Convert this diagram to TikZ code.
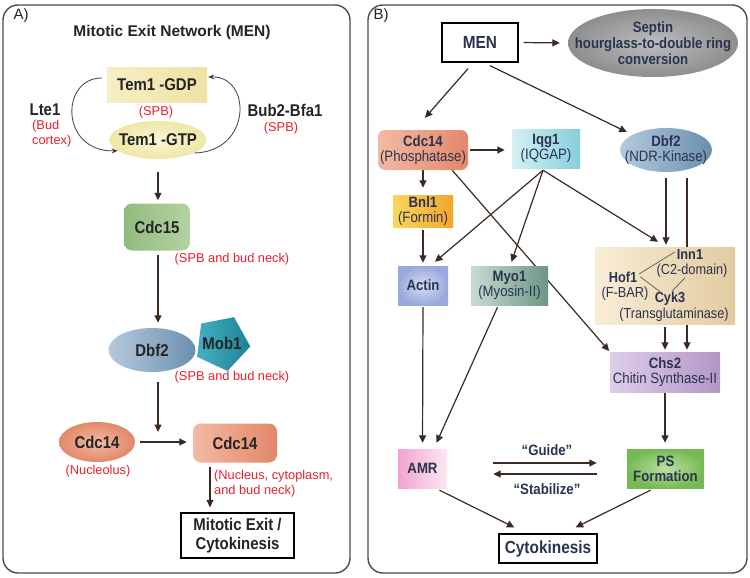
\documentclass[tikz,border=0pt]{standalone}
\usepackage{fontspec}
\setmainfont{Liberation Sans}[FakeStretch=0.88]
\newfontfamily\wfont{Liberation Sans}
\usetikzlibrary{arrows.meta,shapes.geometric,calc}
\pgfdeclarelayer{back}\pgfdeclarelayer{bg}\pgfsetlayers{back,bg,main}
\definecolor{arrc}{HTML}{3B2A22}
\definecolor{redl}{HTML}{E8212E}
\definecolor{txt}{HTML}{242424}
\definecolor{txtb}{HTML}{2B3350}
\definecolor{gdpA}{HTML}{F6EFC4}\definecolor{gdpB}{HTML}{EEE2A4}
\definecolor{gtpA}{HTML}{FAF6D8}\definecolor{gtpB}{HTML}{EFE6A6}
\definecolor{cfA}{HTML}{92BC7E}\definecolor{cfB}{HTML}{B4D2A2}
\definecolor{dbA}{HTML}{B4CADD}\definecolor{dbB}{HTML}{6B8FAE}
\definecolor{mbA}{HTML}{45B0C2}\definecolor{mbB}{HTML}{1E8196}
\definecolor{ckA}{HTML}{F3B9A2}\definecolor{ckB}{HTML}{E2886A}
\definecolor{sepA}{HTML}{BDBDBD}\definecolor{sepB}{HTML}{8E8E8E}
\definecolor{iqA}{HTML}{D3F0F3}\definecolor{iqB}{HTML}{86CFDB}
\definecolor{bnA}{HTML}{F9D75E}\definecolor{bnB}{HTML}{F3A52B}
\definecolor{acA}{HTML}{D6DDF4}\definecolor{acB}{HTML}{9AA9DC}
\definecolor{myA}{HTML}{C8DBD2}\definecolor{myB}{HTML}{6C9685}
\definecolor{bgA}{HTML}{F8EDD6}\definecolor{bgB}{HTML}{E2CBA0}
\definecolor{chA}{HTML}{DDCDE7}\definecolor{chB}{HTML}{B397C7}
\definecolor{amA}{HTML}{F1A3CE}\definecolor{amB}{HTML}{FCE8F2}
\definecolor{psA}{HTML}{B9E0A2}\definecolor{psB}{HTML}{77BA55}
\begin{document}
\begin{tikzpicture}[x=1pt,y=-1pt,
  panel/.style={draw=black!70, line width=1.4pt, rounded corners=15pt},
  arr/.style={draw=arrc, line width=1.2pt, -{Triangle[length=7.5pt,width=7pt]}},
  carr/.style={draw=black!75, line width=0.8pt, -{Stealth[length=6pt,width=5pt]}},
  thinl/.style={draw=black!65, line width=0.7pt},
  rl/.style={text=redl, font=\wfont\fontsize{12.8}{15}\selectfont, inner sep=0pt},
  ba/.style={font=\fontsize{17}{19}\selectfont\bfseries, text=txt, inner sep=0pt},
  bb/.style={font=\fontsize{15}{15}\selectfont, text=txtb, align=center, inner sep=0pt},
  bbb/.style={font=\fontsize{15}{15}\selectfont\bfseries, text=txtb, align=center, inner sep=0pt},
  sb/.style={font=\fontsize{14.5}{15}\selectfont, text=txtb, inner sep=0pt},
  sbb/.style={font=\fontsize{14.5}{15}\selectfont\bfseries, text=txtb, inner sep=0pt},
  box/.style={inner sep=0pt, align=center},
  ell/.style={ellipse, inner sep=0pt},
  outbox/.style={draw=black, line width=1.3pt, inner sep=0pt, align=center}
]
\begin{pgfonlayer}{back}
  \fill[white] (0,0) rectangle (750,578);
  \draw[panel] (3,5) rectangle (350,573);
  \draw[panel] (368,5) rectangle (747,573);
\end{pgfonlayer}
\useasboundingbox (0,0) rectangle (750,578);

% ---------------- Panel A ----------------
\node[font=\wfont\fontsize{15}{17}\selectfont, text=txt, inner sep=0pt] (labA) at (21,16) {A)};
\node[font=\wfont\fontsize{15.5}{17}\selectfont\bfseries, text=txt, inner sep=0pt] (titA) at (172,32) {Mitotic Exit Network (MEN)};
\node[box, ba, minimum width=100pt, minimum height=34pt, left color=gdpA, right color=gdpB] (gdp) at (157,85) {Tem1 -GDP};
\node[rl] (spb1) at (156,112) {(SPB)};
\node[ell, minimum width=97pt, minimum height=38pt, inner color=gtpA, outer color=gtpB,
      label={[ba]center:Tem1 -GTP}] (gtp) at (158,140) {};
\node[ba] (lte1) at (45,110) {Lte1};
\node[rl, align=left, anchor=north west] (lte1l) at (32,120) {(Bud\\cortex)};
\node[ba] (bub) at (285,110) {Bub2-Bfa1};
\node[rl] (spb2) at (281,128) {(SPB)};

\node[box, ba, rounded corners=8pt, minimum width=66pt, minimum height=47pt, left color=cfA, right color=cfB] (cdc15) at (157,227) {Cdc15};
\node[rl] (spbn1) at (232,259) {(SPB and bud neck)};

\node[regular polygon, regular polygon sides=5, minimum size=57pt, inner sep=0pt, shape border rotate=-25,
      left color=mbA, right color=mbB, label={[ba]center:Mob1}] (mob1) at (222,343) {};
\node[ell, minimum width=87pt, minimum height=44pt, left color=dbA, right color=dbB,
      label={[ba]center:Dbf2}] (dbf2a) at (152,350) {};
\node[rl] (spbn2) at (232,377) {(SPB and bud neck)};

\coordinate (jn) at (158,443);
\node[ell, minimum width=76pt, minimum height=40pt, inner color=ckA, outer color=ckB,
      label={[ba]center:Cdc14}] (c14l) at (97,442) {};
\node[rl] (nuc) at (98,471) {(Nucleolus)};
\node[box, ba, rounded corners=8pt, minimum width=84pt, minimum height=39pt, left color=ckA, right color=ckB] (c14r) at (235,443) {Cdc14};
\node[rl, align=left, anchor=north west] (nucl) at (214,470) {(Nucleus, cytoplasm,\\and bud neck)};
\node[outbox, ba, font=\fontsize{17}{19.5}\selectfont\bfseries, minimum width=113pt, minimum height=45pt] (mex) at (237.5,535.5) {Mitotic Exit /\\Cytokinesis};

% ---------------- Panel B ----------------
\node[font=\wfont\fontsize{15}{17}\selectfont, text=txt, inner sep=0pt] (labB) at (381,16) {B)};
\node[outbox, font=\fontsize{17.5}{19}\selectfont\bfseries, text=txtb, minimum width=76pt, minimum height=39pt] (men) at (480,42.5) {MEN};
\node[ell, minimum width=170pt, minimum height=68pt, inner color=sepA, outer color=sepB,
      label={[font=\fontsize{15}{16}\selectfont\bfseries, text=txtb, align=center]center:Septin\\hourglass-to-double ring\\conversion}] (sep) at (653,43) {};

\node[box, bb, rounded corners=7pt, minimum width=90pt, minimum height=40pt, left color=ckA, right color=ckB] (c14b) at (423,150) {\textbf{Cdc14}\\(Phosphatase)};
\node[box, bb, minimum width=68pt, minimum height=39pt, left color=iqA, right color=iqB] (iqg1) at (546,148.5) {\textbf{Iqg1}\\(IQGAP)};
\node[ell, minimum width=92pt, minimum height=44pt, left color=dbA, right color=dbB,
      label={[bb]center:\textbf{Dbf2}\\(NDR-Kinase)}] (dbf2b) at (666,150) {};

\node[box, bb, minimum width=60pt, minimum height=32pt, left color=bnA, right color=bnB] (bnl1) at (423,211) {\textbf{Bnl1}\\(Formin)};
\node[box, bbb, minimum width=50pt, minimum height=39pt, inner color=acA, outer color=acB] (actin) at (423,285.5) {Actin};
\node[box, bb, minimum width=77pt, minimum height=39pt, left color=myA, right color=myB] (myo1) at (509.5,285.5) {\textbf{Myo1}\\(Myosin-II)};
\node[box, minimum width=140pt, minimum height=77pt, left color=bgA, right color=bgB] (big) at (665,285.5) {};
\node[sbb, anchor=base] (inn1) at (690,259) {Inn1};
\node[sb, anchor=base] (inn1d) at (692,274.5) {(C2-domain)};
\node[sbb, anchor=base] (hof1) at (623,282) {Hof1};
\node[sb, anchor=base] (hof1d) at (625,297.5) {(F-BAR)};
\node[sbb, anchor=base] (cyk3) at (670,302) {Cyk3};
\node[sb, anchor=base] (cyk3d) at (674,318) {(Transglutaminase)};
\draw[thinl] ($(hof1.east)+(2,-3)$) -- ($(inn1.west)+(-2,-2)$);
\draw[thinl] ($(hof1.east)+(3,0)$) -- ($(cyk3.north)+(-8,2)$);
\draw[thinl] ($(cyk3.north)+(2,0)$) -- ($(inn1d.south)+(-7,0)$);

\node[box, bb, minimum width=110pt, minimum height=40pt, left color=chA, right color=chB] (chs2) at (665,372) {\textbf{Chs2}\\Chitin Synthase-II};
\node[box, bbb, minimum width=49pt, minimum height=39pt, left color=amA, right color=amB] (amr) at (422.5,468.5) {AMR};
\node[box, bbb, minimum width=77pt, minimum height=39pt, inner color=psA, outer color=psB] (ps) at (665.5,468.5) {PS\\Formation};
\node[outbox, font=\fontsize{17.5}{19}\selectfont\bfseries, text=txtb, minimum width=98pt, minimum height=29pt] (cyto) at (548,548.5) {Cytokinesis};
\node[bbb] (guide) at (547,450) {“Guide”};
\node[bbb] (stab) at (547,489) {“Stabilize”};

% ---------------- connectors ----------------
\begin{pgfonlayer}{bg}
  % panel A
  \coordinate (l1) at ($(gdp.west)+(-5,-7)$);
  \draw[carr] (l1) .. controls (60,78) and (60,152) .. (gtp.195);
  \draw[carr] (gtp.-20) .. controls (252,152) and (252,76) .. ($(gdp.east)+(1,-8)$);
  \draw[arr, shorten <=13pt, shorten >=3pt] (gtp.south) -- (gtp.south |- cdc15.north);
  \draw[arr, shorten <=4pt, shorten >=5pt] (cdc15.south -| gtp.south) -- (gtp.south |- dbf2a.north);
  \draw[arr, shorten <=10pt, shorten >=11pt] (dbf2a.south -| jn) -- (jn);
  \draw[arr, shorten <=5pt, shorten >=6pt] (c14l.east) -- (c14l.east -| c14r.west);
  \coordinate (a1) at ($(c14r.south)+(-25,4.5)$);
  \draw[arr, shorten >=5pt] (a1) -- (a1 |- mex.north);
  % panel B
  \draw[arr, shorten <=5pt, shorten >=8pt] (men.east) -- (sep.west);
  \draw[arr] ($(men.south)+(-12,6)$) -- ($(c14b.north)+(2,-12)$);
  \draw[arr] ($(men.south)+(10,3)$) -- ($(dbf2b.west)+(7,-18)$);
  \draw[arr, shorten <=2pt, shorten >=7pt] (c14b.east) -- (c14b.east -| iqg1.west);
  \draw[arr, shorten >=7pt] (c14b.south) -- (bnl1.north);
  \draw[arr, shorten <=3pt, shorten >=3pt] (bnl1.south) -- (actin.north);
  \coordinate (iq) at ($(iqg1.south)+(-3,2)$);
  \draw[arr] (iq) -- ($(actin.north)+(12,-4)$);
  \draw[arr] (iq) -- ($(myo1.north)+(2,-4)$);
  \draw[arr] (iq) -- ($(big.north)+(-7,-5)$);
  \draw[arr, shorten >=1pt] ($(c14b.south east)+(-16,0)$) -- (chs2.north west);
  \draw[arr, shorten <=6pt, shorten >=2pt] (dbf2b.south) -- (dbf2b.south |- big.north);
  \coordinate (d2) at ($(dbf2b.south)+(21,6)$);
  \draw[arr, shorten >=2pt] (d2) -- (d2 |- chs2.north);
  \draw[arr, shorten <=3pt, shorten >=2pt] (big.south) -- (big.south |- chs2.north);
  \draw[arr] ($(myo1.south)+(-12,2)$) -- ($(amr.north)+(14,-6)$);
  \draw[arr, shorten <=2pt, shorten >=6pt] (actin.south) -- (amr.north);
  \draw[arr, shorten <=1pt, shorten >=6pt] (chs2.south) -- (chs2.south |- ps.north);
  \draw[arr] ($(amr.east)+(46,-5.5)$) -- ($(ps.west)+(-30,-5.5)$);
  \draw[arr] ($(ps.west)+(-30,5.5)$) -- ($(amr.east)+(46,5.5)$);
  \draw[arr] ($(amr.south)+(17,2)$) -- ($(cyto.north west)+(16,-6)$);
  \draw[arr] ($(ps.south)+(-15,2)$) -- ($(cyto.north east)+(-22,-6)$);
\end{pgfonlayer}
\end{tikzpicture}
\end{document}
